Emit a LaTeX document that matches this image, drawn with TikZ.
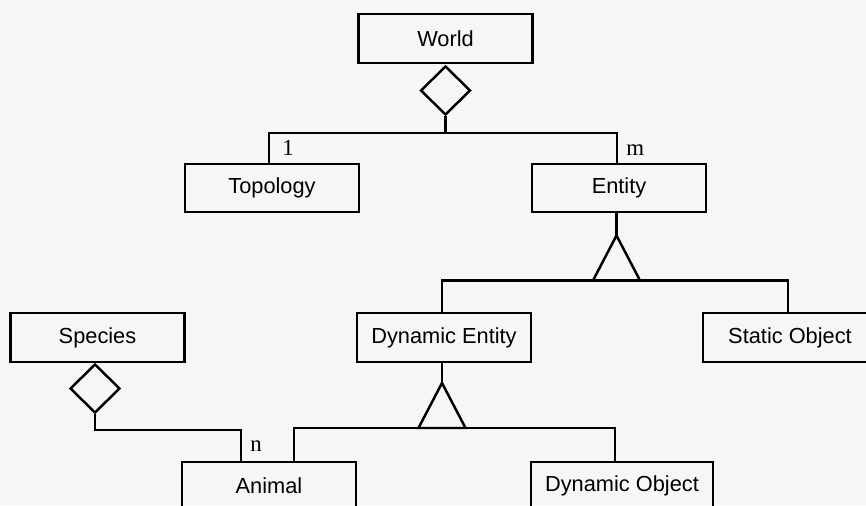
\documentclass[tikz,border=0pt]{standalone}
\usepackage{fontspec}
\setmainfont{Liberation Sans}
\newfontfamily\mulfont{Liberation Serif}
\usetikzlibrary{shapes.geometric}
\definecolor{paper}{rgb}{0.965,0.965,0.955}

\begin{document}
\begin{tikzpicture}[
	cls/.style={draw, rectangle, line width=1.4pt, minimum width=3.48cm, minimum height=0.97cm, inner sep=0pt, font=\fontsize{12.4}{14}\selectfont},
	agg/.style={draw, diamond, line width=1.4pt, minimum width=1cm, minimum height=0.98cm, inner sep=0pt},
	lnk/.style={line width=1.4pt},
	mul/.style={inner sep=0pt, font=\mulfont\fontsize{13}{14}\selectfont}]
	\fill[paper] (0,0) rectangle (17.32,-10.1);
	\useasboundingbox (0,0) rectangle (17.32,-10.1);
	\clip (0,0) rectangle (17.32,-10.1);

	\node [cls] (world) at (8.91,-0.77) {World};
	\node [agg, below of=world, node distance=1.04cm] (wagg) {};
	\node [cls, below of=world, node distance=2.99cm, xshift=-3.47cm] (topo) {Topology};
	\node [cls, below of=world, node distance=2.99cm, xshift=3.47cm] (ent) {Entity};
	\draw [lnk] (wagg.south) -- ++(0,-0.34) -| ([xshift=-0.06cm] topo.north);
	\draw [lnk] (wagg.south) -- ++(0,-0.34) -| ([xshift=-0.04cm] ent.north);
	\node [mul, anchor=south west] (one) at ([xshift=0.2cm, yshift=0.14cm] topo.north) {1};
	\node [mul, anchor=south west] (many) at ([xshift=0.14cm, yshift=0.14cm] ent.north) {m};

	\node [cls, below of=ent, node distance=2.99cm, xshift=-3.5cm] (dyn) {Dynamic Entity};
	\node [cls, below of=ent, node distance=2.99cm, xshift=3.42cm] (stat) {Static Object};
	\draw [lnk] ([xshift=-0.05cm] ent.south) -- ++(0,-0.44) coordinate (eapex);
	\draw [lnk] (eapex) -- ++(-0.47,-0.9) -- ++(0.94,0) -- cycle;
	\draw [lnk] ([xshift=-0.04cm] dyn.north) |- ([yshift=-0.9cm] eapex) -| ([xshift=-0.04cm] stat.north);

	\node [cls, left of=dyn, node distance=6.93cm] (spec) {Species};
	\node [agg, below of=spec, node distance=1.02cm, xshift=-0.05cm] (sagg) {};

	\node [cls, below of=dyn, node distance=2.97cm, xshift=-3.5cm] (animal) {Animal};
	\node [cls, below of=dyn, node distance=2.97cm, xshift=3.56cm, minimum width=3.64cm] (dobj) {Dynamic Object};
	\draw [lnk] ([xshift=-0.04cm] dyn.south) -- ++(0,-0.4) coordinate (dapex);
	\draw [lnk] (dapex) -- ++(-0.47,-0.9) -- ++(0.94,0) -- cycle;
	\draw [lnk] ([xshift=0.5cm] animal.north) |- ([yshift=-0.9cm] dapex) -| ([xshift=-0.14cm] dobj.north);

	\draw [lnk] (sagg.south) -- ++(0,-0.32) -| ([xshift=-0.56cm] animal.north);
	\node [mul, anchor=south west] (nmany) at ([xshift=-0.38cm, yshift=0.18cm] animal.north) {n};
\end{tikzpicture}
\end{document}
